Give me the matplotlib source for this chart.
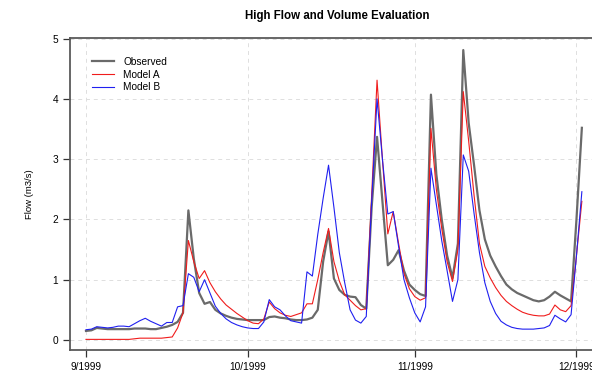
import pandas as pd
import matplotlib
matplotlib.use('Agg')
import matplotlib.pyplot as plt

plt.rcParams['font.family'] = ['Liberation Sans', 'DejaVu Sans']

# daily flows, 1 Sep 1999 - 2 Dec 1999
dates = pd.date_range('1999-09-01', '1999-12-02', freq='D')

observed = [
    0.15, 0.16, 0.20, 0.19, 0.18, 0.18, 0.18, 0.18, 0.18, 0.19,
    0.19, 0.19, 0.18, 0.18, 0.20, 0.22, 0.25, 0.30, 0.45, 2.15,
    1.35, 0.78, 0.60, 0.63, 0.50, 0.44, 0.40, 0.37, 0.35, 0.34,
    0.33, 0.33, 0.33, 0.33, 0.38, 0.39, 0.37, 0.36, 0.34, 0.33,
    0.33, 0.34, 0.37, 0.50, 1.30, 1.80, 1.02, 0.83, 0.75, 0.72,
    0.71, 0.58, 0.52, 2.20, 3.37, 2.30, 1.24, 1.33, 1.49, 1.15,
    0.92, 0.83, 0.76, 0.73, 4.07, 2.75, 2.00, 1.40, 1.03, 1.60,
    4.81, 3.60, 2.90, 2.15, 1.67, 1.40, 1.22, 1.06, 0.92, 0.84,
    0.78, 0.74, 0.70, 0.66, 0.64, 0.66, 0.72, 0.80, 0.74, 0.69,
    0.64, 2.00, 3.52,
]

model_a = [
    0.01, 0.01, 0.01, 0.01, 0.01, 0.01, 0.01, 0.01, 0.01, 0.02,
    0.03, 0.03, 0.03, 0.03, 0.03, 0.04, 0.05, 0.20, 0.45, 1.65,
    1.30, 1.02, 1.15, 0.95, 0.80, 0.68, 0.58, 0.51, 0.44, 0.38,
    0.32, 0.28, 0.27, 0.35, 0.63, 0.52, 0.45, 0.41, 0.39, 0.42,
    0.45, 0.60, 0.60, 1.00, 1.45, 1.85, 1.30, 0.98, 0.75, 0.66,
    0.57, 0.50, 0.52, 2.40, 4.31, 3.00, 1.76, 2.13, 1.60, 1.10,
    0.85, 0.72, 0.66, 0.70, 3.51, 2.50, 1.85, 1.30, 0.97, 1.50,
    4.12, 3.30, 2.40, 1.60, 1.22, 1.03, 0.87, 0.74, 0.64, 0.57,
    0.51, 0.46, 0.43, 0.41, 0.40, 0.40, 0.43, 0.58, 0.50, 0.47,
    0.57, 1.40, 2.30,
]

model_b = [
    0.17, 0.18, 0.22, 0.21, 0.20, 0.21, 0.23, 0.23, 0.22, 0.27,
    0.32, 0.36, 0.31, 0.27, 0.23, 0.29, 0.29, 0.55, 0.57, 1.10,
    1.04, 0.80, 1.00, 0.78, 0.56, 0.44, 0.35, 0.29, 0.25, 0.22,
    0.20, 0.19, 0.19, 0.30, 0.67, 0.55, 0.50, 0.40, 0.32, 0.30,
    0.28, 1.13, 1.06, 1.75, 2.35, 2.90, 2.20, 1.45, 0.95, 0.50,
    0.33, 0.28, 0.39, 2.30, 4.00, 3.00, 2.09, 2.13, 1.55, 1.00,
    0.70, 0.45, 0.30, 0.55, 2.85, 2.25, 1.65, 1.15, 0.64, 1.00,
    3.07, 2.80, 2.10, 1.45, 0.95, 0.64, 0.44, 0.31, 0.25, 0.21,
    0.19, 0.18, 0.18, 0.18, 0.19, 0.20, 0.24, 0.41, 0.35, 0.30,
    0.42, 1.40, 2.46,
]

tick_dates = pd.to_datetime(['1999-09-01', '1999-10-01', '1999-11-01', '1999-12-01'])
tick_labels = ['9/1999', '10/1999', '11/1999', '12/1999']
y_ticks = [0, 1, 2, 3, 4, 5]

fig = plt.figure(figsize=(5.92, 3.75), dpi=100)
ax = fig.add_axes([0.1182, 0.0667, 0.902, 0.832])

ax.plot(dates, observed, color='#6a6a6a', lw=1.6, label='Observed')
ax.plot(dates, model_a, color='#f01c1c', lw=0.8, label='Model A')
ax.plot(dates, model_b, color='#2020f0', lw=0.8, label='Model B')

start = pd.Timestamp('1999-09-01')
ax.set_xlim(start - pd.Timedelta(days=2.97), start + pd.Timedelta(days=96.1))
ax.set_ylim(-0.166, 5.01)

ax.set_xticks(tick_dates)
ax.set_xticklabels(tick_labels)
ax.set_yticks(y_ticks)
ax.tick_params(axis='both', labelsize=7.3, length=5, width=0.9,
               color='#333333', pad=3.5)

ax.grid(True, color='#dedede', lw=0.7, linestyle=(0, (4, 4)))
ax.set_axisbelow(True)

for side in ['left', 'top', 'bottom', 'right']:
    ax.spines[side].set_color('#5a5a5a')
    ax.spines[side].set_linewidth(1.3)

ax.set_ylabel('Flow (m3/s)', fontsize=6.8)
ax.yaxis.set_label_coords(-0.068, 0.5)

ax.set_title('High Flow and Volume Evaluation', fontsize=8.3,
             fontweight='bold', pad=14)

ax.legend(loc='upper left', bbox_to_anchor=(0.041, 0.939), frameon=False,
          fontsize=7.3, handlelength=2.2, handletextpad=0.9,
          labelspacing=0.25, borderpad=0, borderaxespad=0)

fig.savefig('out.png', dpi=100)
